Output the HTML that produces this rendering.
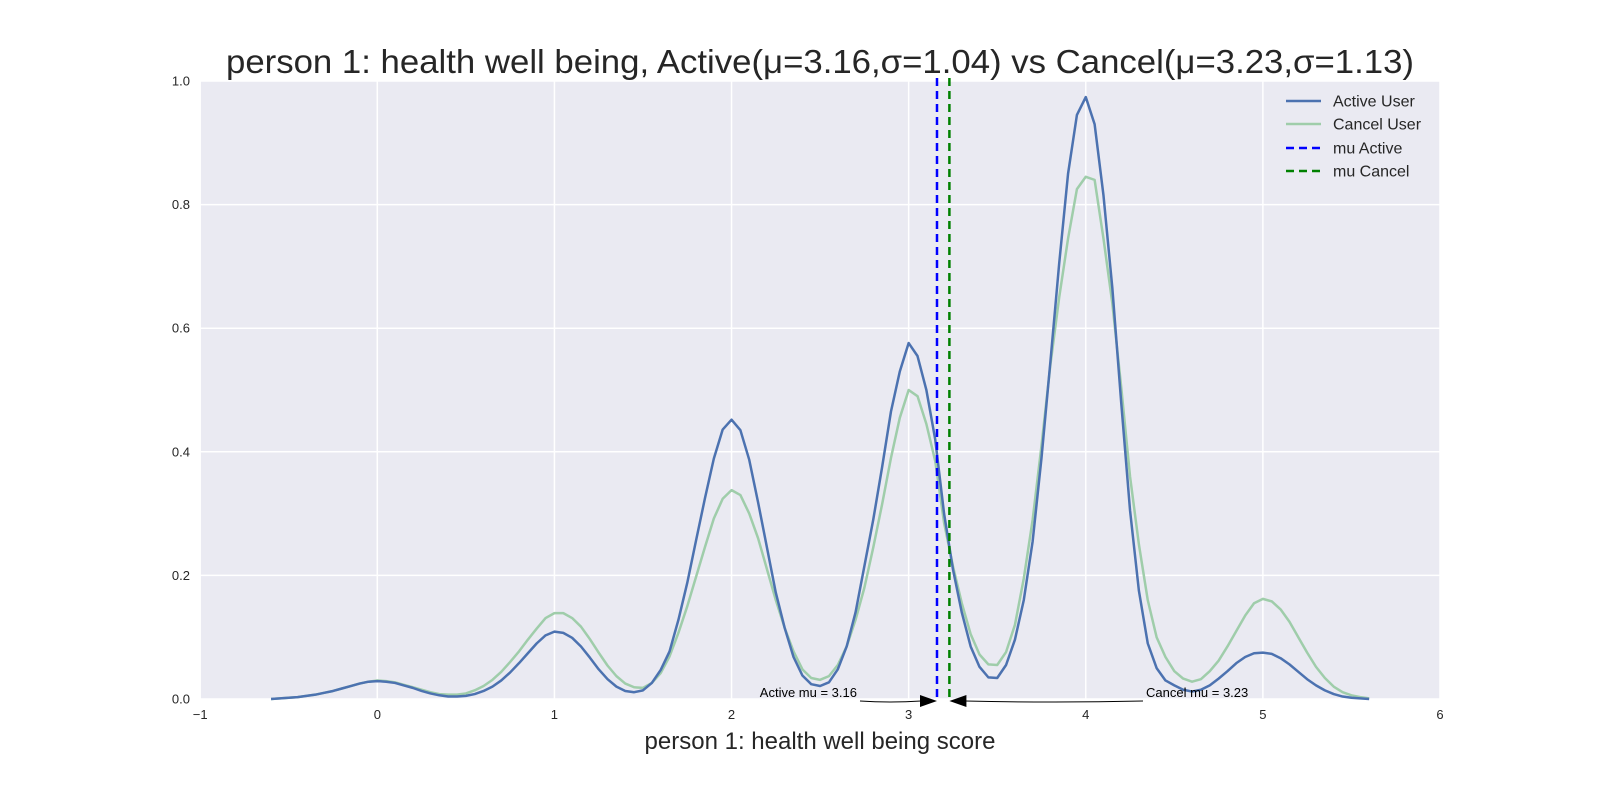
<!DOCTYPE html>
<html><head><meta charset="utf-8"><style>
html,body{margin:0;padding:0;background:#fff;}
svg text{font-family:"Liberation Sans",Arial,sans-serif;fill:#262626;}
</style></head><body>
<svg id="chart" width="1600" height="800" viewBox="0 0 1600 800" xmlns="http://www.w3.org/2000/svg">
<rect x="0" y="0" width="1600" height="800" fill="#fff"/>
<g id="plot"></g>
</svg>
<script>
const xs = [-0.6,-0.55,-0.5,-0.45,-0.4,-0.35,-0.3,-0.25,-0.2,-0.15,-0.1,-0.05,0,0.05,0.1,0.15,0.2,0.25,0.3,0.35,0.4,0.45,0.5,0.55,0.6,0.65,0.7,0.75,0.8,0.85,0.9,0.95,1.0,1.05,1.1,1.15,1.2,1.25,1.3,1.35,1.4,1.45,1.5,1.55,1.6,1.65,1.7,1.75,1.8,1.85,1.9,1.95,2.0,2.05,2.1,2.15,2.2,2.25,2.3,2.35,2.4,2.45,2.5,2.55,2.6,2.65,2.7,2.75,2.8,2.85,2.9,2.95,3.0,3.05,3.1,3.15,3.2,3.25,3.3,3.35,3.4,3.45,3.5,3.55,3.6,3.65,3.7,3.75,3.8,3.85,3.9,3.95,4.0,4.05,4.1,4.15,4.2,4.25,4.3,4.35,4.4,4.45,4.5,4.55,4.6,4.65,4.7,4.75,4.8,4.85,4.9,4.95,5.0,5.05,5.1,5.15,5.2,5.25,5.3,5.35,5.4,5.45,5.5,5.55,5.6];
const activeVals = [0.000,0.001,0.002,0.003,0.005,0.007,0.010,0.013,0.017,0.021,0.025,0.028,0.029,0.028,0.026,0.022,0.018,0.013,0.009,0.006,0.004,0.004,0.005,0.008,0.013,0.020,0.030,0.043,0.058,0.074,0.090,0.103,0.109,0.107,0.099,0.085,0.067,0.048,0.032,0.020,0.013,0.011,0.014,0.026,0.047,0.077,0.128,0.188,0.257,0.325,0.389,0.436,0.452,0.435,0.387,0.318,0.245,0.172,0.115,0.068,0.038,0.024,0.021,0.027,0.048,0.085,0.140,0.215,0.290,0.375,0.465,0.530,0.576,0.555,0.500,0.420,0.300,0.210,0.140,0.085,0.052,0.035,0.034,0.055,0.096,0.160,0.255,0.390,0.545,0.705,0.850,0.945,0.974,0.930,0.815,0.665,0.480,0.305,0.175,0.090,0.050,0.030,0.022,0.015,0.012,0.015,0.022,0.033,0.045,0.058,0.068,0.074,0.075,0.073,0.066,0.056,0.044,0.032,0.022,0.014,0.008,0.004,0.002,0.001,0.000];
const cancelVals = [0.000,0.001,0.002,0.003,0.005,0.007,0.010,0.013,0.017,0.021,0.025,0.028,0.030,0.029,0.027,0.023,0.019,0.015,0.011,0.008,0.007,0.007,0.009,0.014,0.021,0.031,0.044,0.060,0.077,0.096,0.114,0.131,0.139,0.139,0.131,0.117,0.097,0.075,0.054,0.037,0.025,0.019,0.018,0.026,0.042,0.069,0.107,0.150,0.198,0.246,0.292,0.324,0.338,0.330,0.300,0.260,0.210,0.160,0.115,0.077,0.048,0.034,0.031,0.037,0.055,0.085,0.128,0.180,0.245,0.315,0.390,0.455,0.500,0.490,0.445,0.385,0.285,0.215,0.155,0.105,0.072,0.056,0.055,0.076,0.120,0.195,0.290,0.410,0.540,0.650,0.745,0.825,0.845,0.840,0.745,0.640,0.505,0.360,0.250,0.160,0.100,0.068,0.045,0.033,0.028,0.032,0.045,0.062,0.085,0.110,0.135,0.155,0.162,0.158,0.145,0.125,0.100,0.075,0.052,0.034,0.020,0.011,0.006,0.003,0.001];
const xTicks = [-1,0,1,2,3,4,5,6];
const xTickLabels = ["\u22121","0","1","2","3","4","5","6"];
const yTicks = [0,0.2,0.4,0.6,0.8,1.0];
const yTickLabels = ["0.0","0.2","0.4","0.6","0.8","1.0"];
const muActive = 3.16;
const muCancel = 3.23;

const L=200.2,R=1440,T=81,B=699;
const xMin=-1,xMax=6,yMin=0,yMax=1;
function sx(v){return L+(v-xMin)/(xMax-xMin)*(R-L);}
function sy(v){return B-(v-yMin)/(yMax-yMin)*(B-T);}
const NS="http://www.w3.org/2000/svg";
const g=document.getElementById('plot');
function mk(tag,attrs,parent){const e=document.createElementNS(NS,tag);for(const k in attrs)e.setAttribute(k,attrs[k]);(parent||g).appendChild(e);return e;}

const bg=mk('rect',{x:L,y:T,width:R-L,height:B-T,fill:'#eaeaf2'});



xTicks.forEach((t,i)=>{
  const ln=mk('line',{x1:sx(t),x2:sx(t),y1:T,y2:B,stroke:'#fff','stroke-width':1.5});
  
  
  const tx=mk('text',{x:sx(t),y:719,'text-anchor':'middle','font-size':13});
  tx.textContent=xTickLabels[i];
  
  
});
yTicks.forEach((t,i)=>{
  const ln=mk('line',{x1:L,x2:R,y1:sy(t),y2:sy(t),stroke:'#fff','stroke-width':1.5});
  
  
  const tx=mk('text',{x:190,y:sy(t)+4.5,'text-anchor':'end','font-size':13});
  tx.textContent=yTickLabels[i];
  
  
});

function pathFor(vals){return vals.map((v,i)=>(i?'L':'M')+sx(xs[i]).toFixed(2)+','+sy(v).toFixed(2)).join(' ');}
const pc=mk('path',{d:pathFor(cancelVals),fill:'none',stroke:'#9fcdaa','stroke-width':2.5,'stroke-linejoin':'round'});


const pa=mk('path',{d:pathFor(activeVals),fill:'none',stroke:'#4c72b0','stroke-width':2.5,'stroke-linejoin':'round'});



const ma=mk('line',{x1:sx(muActive),x2:sx(muActive),y1:78,y2:B,stroke:'#0000ff','stroke-width':2.5,'stroke-dasharray':'8,5'});


const mc=mk('line',{x1:sx(muCancel),x2:sx(muCancel),y1:78,y2:B,stroke:'#008000','stroke-width':2.5,'stroke-dasharray':'8,5'});



const ax=sx(muActive), cx=sx(muCancel);
const aArrow=mk('path',{d:`M860,701 Q${(860+ax-16)/2},703 ${ax-16},701`,fill:'none',stroke:'#000','stroke-width':1});


const aHead=mk('polygon',{points:`${ax},701 ${ax-17},695 ${ax-17},707`,fill:'#000'});


const aTxt=mk('text',{x:857,y:697,'text-anchor':'end','font-size':13,style:'fill:#000'});
aTxt.textContent='Active mu = '+muActive.toFixed(2);


const cArrow=mk('path',{d:`M1143,701 Q${(1143+cx+16)/2},703 ${cx+16},701`,fill:'none',stroke:'#000','stroke-width':1});


const cHead=mk('polygon',{points:`${cx},701 ${cx+17},695 ${cx+17},707`,fill:'#000'});


const cTxt=mk('text',{x:1146,y:697,'font-size':13,style:'fill:#000'});
cTxt.textContent='Cancel mu = '+muCancel.toFixed(2);



const leg=mk('g',{});


const entries=[['Active User','#4c72b0',''],['Cancel User','#9fcdaa',''],['mu Active','#0000ff','8,5'],['mu Cancel','#008000','8,5']];
const rowsY=[101,124,148,171];
entries.forEach((e,i)=>{
  const attrs={x1:1286,x2:1321,y1:rowsY[i],y2:rowsY[i],stroke:e[1],'stroke-width':2.5};
  if(e[2])attrs['stroke-dasharray']=e[2];
  const ln=mk('line',attrs,leg);
  
  
  const tx=mk('text',{x:1333,y:rowsY[i]+5.5,'font-size':16},leg);
  tx.textContent=e[0];
  
  
});

const title=mk('text',{x:820,y:73,'text-anchor':'middle','font-size':33,textLength:1188,lengthAdjust:'spacingAndGlyphs'});
title.textContent='person 1: health well being, Active(\u03bc=3.16,\u03c3=1.04) vs Cancel(\u03bc=3.23,\u03c3=1.13)';


const xl=mk('text',{x:820,y:749,'text-anchor':'middle','font-size':24});
xl.textContent='person 1: health well being score';


</script>
</body></html>
